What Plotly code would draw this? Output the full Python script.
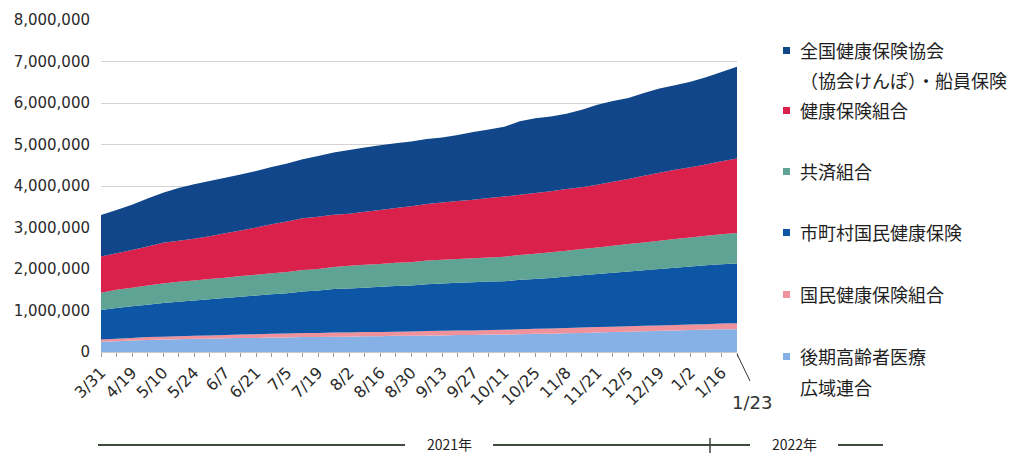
import plotly.graph_objects as go

# ---- data ----
dates = ["3/31", "4/12", "4/19", "4/26", "5/10", "5/17", "5/24", "5/31", "6/7", "6/14",
         "6/21", "6/28", "7/5", "7/12", "7/19", "7/26", "8/2", "8/9", "8/16", "8/23",
         "8/30", "9/6", "9/13", "9/20", "9/27", "10/4", "10/11", "10/18", "10/25", "11/1",
         "11/8", "11/15", "11/21", "11/28", "12/5", "12/12", "12/19", "12/26", "1/2", "1/9",
         "1/16", "1/23"]
shown_labels = ["3/31", "4/19", "5/10", "5/24", "6/7", "6/21", "7/5", "7/19", "8/2", "8/16",
                "8/30", "9/13", "9/27", "10/11", "10/25", "11/8", "11/21", "12/5", "12/19",
                "1/2", "1/16"]

koki = [250000, 260000, 280000, 290000, 300000, 310000, 320000, 320000, 330000, 340000,
        340000, 350000, 350000, 360000, 360000, 370000, 370000, 380000, 380000, 390000,
        390000, 400000, 400000, 410000, 410000, 420000, 420000, 430000, 440000, 440000,
        450000, 460000, 470000, 480000, 490000, 500000, 510000, 520000, 530000, 540000,
        550000, 550000]
kokuho_kumiai = [50000, 60000, 60000, 70000, 70000, 70000, 70000, 80000, 80000, 80000,
                 90000, 90000, 95000, 95000, 100000, 100000, 100000, 100000, 100000, 100000,
                 105000, 105000, 110000, 110000, 110000, 110000, 115000, 120000, 120000, 125000,
                 130000, 130000, 130000, 130000, 130000, 130000, 130000, 130000, 130000, 130000,
                 135000, 145000]
shichoson = [710000, 740000, 760000, 780000, 810000, 830000, 850000, 870000, 890000, 910000,
             930000, 950000, 970000, 1000000, 1020000, 1050000, 1060000, 1070000, 1090000, 1100000,
             1110000, 1130000, 1140000, 1150000, 1160000, 1170000, 1170000, 1190000, 1200000, 1220000,
             1240000, 1260000, 1280000, 1300000, 1320000, 1340000, 1360000, 1380000, 1400000, 1420000,
             1430000, 1440000]
kyosai = [420000, 440000, 450000, 460000, 470000, 480000, 480000, 490000, 490000, 500000,
          500000, 510000, 510000, 520000, 520000, 530000, 550000, 550000, 550000, 560000,
          560000, 570000, 570000, 570000, 580000, 580000, 590000, 600000, 610000, 620000,
          620000, 630000, 640000, 650000, 660000, 670000, 680000, 690000, 700000, 710000,
          720000, 730000]
kenpo_kumiai = [870000, 880000, 910000, 940000, 980000, 990000, 1010000, 1030000, 1070000, 1100000,
                1140000, 1180000, 1220000, 1250000, 1260000, 1260000, 1250000, 1280000, 1300000, 1320000,
                1350000, 1360000, 1380000, 1400000, 1410000, 1430000, 1450000, 1450000, 1460000, 1470000,
                1490000, 1490000, 1510000, 1540000, 1570000, 1610000, 1640000, 1670000, 1690000, 1720000,
                1760000, 1800000]
kyokai = [1000000, 1040000, 1090000, 1160000, 1210000, 1270000, 1310000, 1330000, 1340000, 1350000,
          1360000, 1380000, 1400000, 1420000, 1460000, 1500000, 1540000, 1550000, 1560000, 1560000,
          1560000, 1570000, 1570000, 1590000, 1630000, 1650000, 1680000, 1770000, 1800000, 1800000,
          1810000, 1870000, 1930000, 1950000, 1950000, 1990000, 2030000, 2040000, 2060000, 2100000,
          2150000, 2210000]

series_names = ["後期高齢者医療<br>広域連合", "国民健康保険組合", "市町村国民健康保険",
                "共済組合", "健康保険組合", "全国健康保険協会<br>（協会けんぽ）・船員保険"]
series_values = [koki, kokuho_kumiai, shichoson, kyosai, kenpo_kumiai, kyokai]
series_colors = ["#86b1e6", "#f0929b", "#0d55a5", "#5ea394", "#d9214b", "#12468a"]

y_ticks = [0, 1000000, 2000000, 3000000, 4000000, 5000000, 6000000, 7000000, 8000000]

# ---- layout geometry (pixels) ----
W, H = 1019, 453
L, R, T, B = 101, 737, 20, 352
pw, ph = R - L, B - T


def px(x):
    return (x - L) / pw


def py(y):
    return (B - y) / ph


fig = go.Figure()
for name, vals, col in zip(series_names, series_values, series_colors):
    fig.add_trace(go.Scatter(
        x=dates, y=vals, name=name, stackgroup="one", mode="none",
        fillcolor=col, line=dict(width=0), showlegend=False,
    ))

ticktext = [d if d in shown_labels else "" for d in dates]

fig.update_layout(
    width=W, height=H,
    margin=dict(l=L, r=W - R, t=T, b=H - B, pad=0),
    paper_bgcolor="white", plot_bgcolor="white",
    xaxis=dict(
        type="category", range=[0, len(dates) - 1],
        tickmode="array", tickvals=dates, ticktext=ticktext,
        tickangle=-45, ticks="outside", ticklen=4, tickcolor="#9a9a9a",
        showgrid=False, showline=True, linecolor="#c8c8c8", linewidth=1,
        tickfont=dict(family="DejaVu Sans", size=16, color="#2a2a2a"),
        zeroline=False,
    ),
    yaxis=dict(
        range=[0, 8000000], tickmode="array", tickvals=y_ticks,
        tickformat=",d", showgrid=True, gridcolor="#d2d2d2", gridwidth=1,
        zeroline=False, showline=False, ticks="", ticklabelstandoff=10,
        tickfont=dict(family="DejaVu Sans", size=15, color="#2a2a2a"),
    ),
)

# manual legend
legend_rows = [
    ("全国健康保険協会", "（協会けんぽ）・船員保険", 50, 80, "#12468a"),
    ("健康保険組合", None, 110, None, "#d9214b"),
    ("共済組合", None, 171, None, "#5ea394"),
    ("市町村国民健康保険", None, 232, None, "#0d55a5"),
    ("国民健康保険組合", None, 294, None, "#f0929b"),
    ("後期高齢者医療", "広域連合", 356, 387, "#86b1e6"),
]
lfont = dict(family="Noto Sans CJK JP", size=18, color="#1e1e1e")
for t1, t2, y1, y2, col in legend_rows:
    fig.add_shape(type="rect", xref="paper", yref="paper",
                  x0=px(783), x1=px(790), y0=py(y1 + 4), y1=py(y1 - 3),
                  fillcolor=col, line=dict(width=0))
    fig.add_annotation(xref="paper", yref="paper", x=px(798), y=py(y1), text=t1,
                       showarrow=False, xanchor="left", yanchor="middle", font=lfont)
    if t2:
        fig.add_annotation(xref="paper", yref="paper", x=px(798), y=py(y2), text=t2,
                           showarrow=False, xanchor="left", yanchor="middle", font=lfont)

# 1/23 label with leader line
fig.add_shape(type="line", xref="paper", yref="paper",
              x0=px(737), y0=py(354), x1=px(750), y1=py(381),
              line=dict(color="#333333", width=1))
fig.add_annotation(xref="paper", yref="paper", x=px(752), y=py(403), text="1/23",
                   showarrow=False, xanchor="center", yanchor="middle",
                   font=dict(family="DejaVu Sans", size=18, color="#333333"))

# year bar
lc = dict(color="#3e4a3c", width=2)
yl = py(445)
for x0, x1 in [(98, 405), (493, 750), (838, 883)]:
    fig.add_shape(type="line", xref="paper", yref="paper", x0=px(x0), x1=px(x1),
                  y0=yl, y1=yl, line=lc)
fig.add_shape(type="line", xref="paper", yref="paper", x0=px(710), x1=px(710),
              y0=py(438), y1=py(453), line=dict(color="#3e4a3c", width=1.5))
yfont = dict(family="Noto Sans CJK JP", size=14, color="#222222")
fig.add_annotation(xref="paper", yref="paper", x=px(449), y=py(444), text="2021年",
                   showarrow=False, xanchor="center", yanchor="middle", font=yfont)
fig.add_annotation(xref="paper", yref="paper", x=px(794), y=py(444), text="2022年",
                   showarrow=False, xanchor="center", yanchor="middle", font=yfont)

fig.write_html("out.html")
